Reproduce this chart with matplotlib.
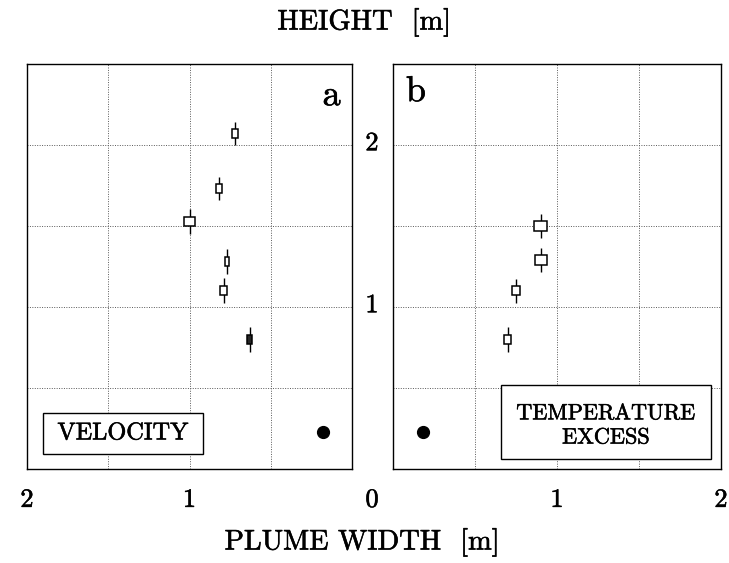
import matplotlib
matplotlib.use("Agg")
import matplotlib.pyplot as plt
import matplotlib.patheffects as pe
from matplotlib.patches import Rectangle
from matplotlib.transforms import blended_transform_factory

plt.rcParams["font.family"] = ["cmr10", "DejaVu Serif"]
plt.rcParams["axes.formatter.use_mathtext"] = True

# velocity panel (a): plume width [m], height [m], box half-width, bar half-length
vel_width = [0.72, 0.82, 1.00, 0.77, 0.79, 0.63]
vel_height = [2.07, 1.73, 1.53, 1.28, 1.10, 0.80]
vel_werr = [0.020, 0.019, 0.035, 0.012, 0.022, 0.014]
vel_herr = [0.070, 0.070, 0.077, 0.075, 0.077, 0.075]

# temperature excess panel (b)
tmp_width = [0.90, 0.905, 0.75, 0.70]
tmp_height = [1.50, 1.29, 1.10, 0.80]
tmp_werr = [0.040, 0.037, 0.024, 0.022]
tmp_herr = [0.077, 0.077, 0.074, 0.077]

# source (filled dot) in each panel
src_width = 0.18
src_height = 0.23

grid_ticks = [0.5, 1.0, 1.5, 2.0]
x_labels = ["2", "1"]
x_label_pos = [2.0, 1.0]
y_labels = ["2", "1"]
y_label_pos = [2.0, 1.0]

W, H = 729, 563
fig = plt.figure(figsize=(W / 100, H / 100), dpi=100)
ax_a = fig.add_axes([27 / W, 94 / H, 325 / W, 405 / H])
ax_b = fig.add_axes([393 / W, 94 / H, 328 / W, 405 / H])

box_half_h = 0.028
# slightly heavier strokes, like the scanned original
heavy = [pe.withStroke(linewidth=0.4, foreground="black")]


def draw_panel(ax, widths, heights, werr, herr, filled_last=False):
    ax.set_ylim(0, 2.5)
    ax.set_xticks(grid_ticks, minor=True)
    ax.set_yticks(grid_ticks, minor=True)
    ax.set_xticks([])
    ax.set_yticks([])
    ax.grid(which="minor", color="0.35", linestyle=(0, (1, 1.5)), linewidth=0.7)
    ax.tick_params(which="both", length=0)
    for sp in ax.spines.values():
        sp.set_linewidth(1.0)
    ax.errorbar(widths, heights, yerr=herr, fmt="none", ecolor="black",
                elinewidth=1.0, capsize=0, zorder=3)
    for i, (w, h, dw) in enumerate(zip(widths, heights, werr)):
        fc = "0.15" if (filled_last and i == len(widths) - 1) else "white"
        ax.add_patch(Rectangle((w - dw, h - box_half_h), 2 * dw, 2 * box_half_h,
                               facecolor=fc, edgecolor="black", linewidth=1.1,
                               zorder=4))
    ax.plot([src_width], [src_height], "o", color="black", markersize=8.5,
            zorder=5)


draw_panel(ax_a, vel_width, vel_height, vel_werr, vel_herr, filled_last=True)
ax_a.set_xlim(2, 0)
draw_panel(ax_b, tmp_width, tmp_height, tmp_werr, tmp_herr)
ax_b.set_xlim(0, 2)

# x tick labels
for ax in (ax_a, ax_b):
    tr = blended_transform_factory(ax.transData, fig.transFigure)
    for lab, pos in zip(x_labels, x_label_pos):
        ax.text(pos, 1 - 500 / H, lab, transform=tr, ha="center", va="center",
                fontsize=19, path_effects=heavy)
fig.text(372 / W, 1 - 500 / H, "0", ha="center", va="center", fontsize=19,
         path_effects=heavy)

# y tick labels between panels
tr_y = blended_transform_factory(fig.transFigure, ax_a.transData)
for lab, pos in zip(y_labels, y_label_pos):
    ax_a.text(372 / W, pos + 0.01, lab, transform=tr_y, ha="center",
              va="center", fontsize=19, path_effects=heavy)

fig.text(364 / W, 1 - 22 / H, "HEIGHT  [m]", ha="center", va="center",
         fontsize=20.5, path_effects=heavy)
fig.text(362 / W, 1 - 542 / H, "PLUME WIDTH  [m]", ha="center", va="center",
         fontsize=20.5, path_effects=heavy)

ax_a.text(0.937, 0.92, "a", transform=ax_a.transAxes, ha="center",
          va="center", fontsize=26, path_effects=heavy)
ax_b.text(0.07, 0.93, "b", transform=ax_b.transAxes, ha="center",
          va="center", fontsize=26, path_effects=heavy)

# label boxes
ax_a.add_patch(Rectangle((0.049, 0.037), 0.493, 0.101, transform=ax_a.transAxes,
                         facecolor="white", edgecolor="black", linewidth=1.0,
                         zorder=6))
ax_a.text(0.295, 0.088, "VELOCITY", transform=ax_a.transAxes, ha="center",
          va="center", fontsize=17.5, path_effects=heavy, zorder=7)
ax_b.add_patch(Rectangle((0.329, 0.025), 0.641, 0.182, transform=ax_b.transAxes,
                         facecolor="white", edgecolor="black", linewidth=1.0,
                         zorder=6))
ax_b.text(0.649, 0.107, "TEMPERATURE\nEXCESS", transform=ax_b.transAxes,
          ha="center", va="center", fontsize=16, path_effects=heavy,
          linespacing=1.3, zorder=7)

fig.savefig("out.png", dpi=100)
